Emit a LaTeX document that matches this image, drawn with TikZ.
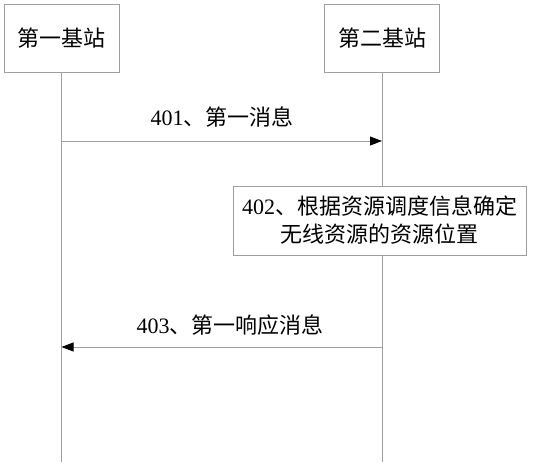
\documentclass[tikz,border=0pt]{standalone}
\usepackage{fontspec}
\setmainfont{Liberation Serif}
\newfontfamily\cjk{Noto Sans CJK SC}
\usetikzlibrary{arrows.meta, positioning, calc}

\begin{document}
\begin{tikzpicture}[x=1pt, y=-1pt,
    >={Triangle[length=12pt, width=9pt, color=black]},
    station/.style={draw=gray!75, line width=0.8pt, fill=white, minimum width=115pt, minimum height=68pt, inner sep=0pt, font=\fontsize{22}{28}\selectfont\cjk},
    lifeline/.style={draw=gray!75, line width=0.8pt},
    msg/.style={->, draw=gray!75, line width=0.8pt},
    lbl/.style={font=\fontsize{22}{28}\selectfont, inner sep=0pt}]
    \useasboundingbox (0,0) rectangle (536,467);

    % The two base stations
    \node[station] (bs1) at (61.5,38) {第一基站};
    \node[station] (bs2) at (382,38) {第二基站};

    % Lifelines
    \coordinate (end1) at (61.5,462);
    \coordinate (end2) at (382,462);
    \draw[lifeline] (bs1.south) -- (end1);
    \draw[lifeline] (bs2.south) -- (end2);

    % 401
    \coordinate (a1) at (61.5,141);
    \coordinate (b1) at (382,141);
    \draw[msg] (a1) -- (b1);
    \node[lbl] (m401) at (222,117) {401{\cjk 、第一消息}};

    % 402
    \node[station, minimum width=293pt, minimum height=69pt, align=center] (step402) at (379.5,220.5)
        {{\rmfamily 402}、根据资源调度信息确定\\无线资源的资源位置};

    % 403
    \coordinate (b3) at (382,347);
    \coordinate (a3) at (61.5,347);
    \draw[msg] (b3) -- (a3);
    \node[lbl] (m403) at (230,325) {403{\cjk 、第一响应消息}};
\end{tikzpicture}
\end{document}
